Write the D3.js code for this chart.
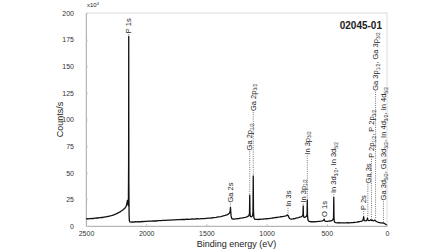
<!DOCTYPE html>
<meta charset="utf-8">
<style>
  body { margin: 0; background: #fff; }
  text { font-family: "Liberation Sans", Arial, sans-serif; fill: #222; }
  .tick text { fill: #333; }
  .lbl { font-size: 7.5px; }
</style>
<body>
<div id="chart"></div>
<script src="https://d3js.org/d3.v7.min.js"></script>
<script>
// binding energy (eV) and counts/s (x10^4)
var energy = [2500,2490,2480,2470,2460,2450,2440,2430,2420,2410,2400,2390,2380,2370,2360,2350,2340,2330,2320,2310,2300,2290,2280,2270,2260,2250,2240,2230,2220,2210,2200,2190,2180,2172,2165,2160,2156,2153,2150,2148,2146,2145,2144,2142,2140,2135,2125,2110,2100,2090,2080,2070,2060,2050,2040,2030,2020,2010,2000,1980,1960,1940,1920,1900,1880,1860,1840,1820,1800,1780,1760,1740,1720,1700,1680,1660,1640,1620,1600,1580,1560,1540,1520,1500,1480,1460,1440,1420,1400,1380,1360,1345,1330,1318,1310,1305,1302,1300,1298,1295,1290,1280,1270,1260,1250,1240,1230,1220,1210,1200,1190,1180,1170,1160,1152,1146,1142,1140,1138,1135,1130,1125,1120,1116,1113,1111,1109,1106,1100,1090,1080,1070,1060,1050,1040,1030,1020,1010,1000,990,980,970,960,950,940,930,920,910,900,890,880,870,860,850,840,832,826,822,818,812,805,795,785,775,765,755,745,735,725,715,708,702,698,696,694,690,684,678,672,668,664,662,660,656,650,640,630,620,610,600,590,580,570,560,550,540,530,525,522,519,514,505,495,485,475,465,455,448,444,442,440,437,432,425,415,400,385,370,355,340,325,310,295,280,265,250,235,220,210,201,197,194,191,187,180,172,166,162,159,155,148,140,134,129,124,118,112,106,100,95,90,84,76,68,60,52,44,36,29,24,18,12,6,2,0];
var counts = [6.4,6.8,6.6,7.0,6.9,7.2,7.0,7.4,7.3,7.6,7.5,7.9,7.8,8.1,8.0,8.4,8.6,8.5,9.0,9.1,9.4,9.8,10.0,10.5,10.9,11.4,11.9,12.5,13.0,13.8,14.5,15.4,16.4,17.5,19.0,21.5,24.0,20.5,23.0,19.0,60,178,40,10,5,3.8,3.6,3.9,3.7,4.0,3.8,4.1,3.9,4.2,4.0,4.3,4.2,4.4,4.3,4.6,4.5,4.8,4.7,5.0,5.0,5.3,5.2,5.5,5.5,5.8,5.7,6.0,5.9,6.2,6.1,6.4,6.3,6.6,6.5,6.8,6.7,7.0,6.9,7.2,7.4,7.5,7.9,8.1,8.5,8.9,9.4,9.9,10.5,11.2,12.0,13.0,14.5,17.5,14,9.5,7.2,6.5,6.4,6.7,6.6,6.9,7.0,7.3,7.4,7.6,7.9,8.1,8.4,8.8,9.3,10.0,12,29,12,9,8.6,8.8,9.2,10.0,13,47,15,8,6.5,6.2,6.3,6.1,6.4,6.3,6.5,6.4,6.7,6.6,6.8,6.9,7.0,7.2,7.3,7.5,7.6,7.8,8.0,8.1,8.4,8.5,8.7,8.9,9.1,9.3,9.6,9.9,10.5,10.0,8.8,7.5,6.8,6.5,6.6,6.8,7.0,7.3,7.6,7.9,8.3,8.6,9.0,9.4,10.5,18.8,10,8.2,8.0,8.4,8.9,9.5,11,24.5,9,5.5,4.5,4.2,4.0,4.1,3.9,4.0,4.1,4.2,4.3,4.4,4.5,4.7,5.0,5.6,6.5,5.2,4.5,4.3,4.4,4.5,4.7,4.9,5.3,6.0,8,27,7,4.0,3.4,3.1,3.0,3.1,2.9,3.0,2.9,3.0,3.1,3.0,3.2,3.3,3.5,3.7,4.0,4.3,4.6,5.2,6.5,8.7,6.2,5.0,4.8,5.0,5.6,7.5,5.8,5.2,5.0,5.4,5.9,5.2,5.6,5.0,4.8,5.2,5.5,4.8,4.4,4.0,3.6,3.3,3.2,3.0,3.0,2.8,3.0,2.6,2.2,1.6,1.2,1.0];

// peak labels: text, energy of label column, peak top, bottom of the label (counts)
var peakNames = ["P 1s","Ga 2s","Ga 2p_1/2","Ga 2p_3/2","In 3s","In 3p_1/2","In 3p_3/2","O 1s","In 3d_3/2, In 3d_5/2","P 2s","Ga 3s","P 2p_1/2, P 2p_3/2","Ga 3p_1/2, Ga 3p_3/2","Ga 3d_5/2, Ga 3d_3/2, In 4d_3/2, In 4d_5/2"];
var peakEnergy = [2145,1300,1140,1111,822,696,662,522,442,194,159,129,95,29];
var peakTop = [178,17.5,29,47,10.2,18.8,24.5,6.5,27,8.7,7.5,6,5.5,3];
var labelBase = [181,22,71,108,18,22,67,8.5,31,15,40,64,127,24];

var xTicks = [2500,2000,1500,1000,500,0];
var yTicks = [0,25,50,75,100,125,150,175,200];

var width = 448, height = 252;
var margin = {top: 13, right: 61, bottom: 26, left: 86};

var svg = d3.select("#chart").append("svg")
    .attr("width", width)
    .attr("height", height);

var x = d3.scaleLinear().domain([2500, 0]).range([margin.left, width - margin.right]);
var y = d3.scaleLinear().domain([0, 200]).range([height - margin.bottom, margin.top]);

// frame
svg.append("rect")
    .attr("x", x(2500)).attr("y", y(200))
    .attr("width", x(0) - x(2500)).attr("height", y(0) - y(200))
    .attr("fill", "none").attr("stroke", "#dcdcdc").attr("stroke-width", 1);

var xAxis = svg.append("g")
    .attr("transform", "translate(0," + y(0) + ")")
    .call(d3.axisBottom(x).tickValues(xTicks).tickFormat(d3.format("d"))
        .tickSizeInner(-2).tickSizeOuter(0).tickPadding(5));
var yAxis = svg.append("g")
    .attr("transform", "translate(" + x(2500) + ",0)")
    .call(d3.axisLeft(y).tickValues(yTicks).tickSizeInner(-2).tickSizeOuter(0).tickPadding(12));
[xAxis, yAxis].forEach(function(a) {
    a.select(".domain").attr("stroke", "#b5b5b5");
    a.selectAll(".tick line").attr("stroke", "#c8c8c8");
    a.selectAll(".tick text").attr("font-size", 7);
});

// spectrum
var pts = energy.map(function(e, i) { return [e, counts[i]]; });
var line = d3.line().x(function(d) { return x(d[0]); }).y(function(d) { return y(d[1]); });
svg.append("path")
    .datum(pts)
    .attr("d", line)
    .attr("fill", "none")
    .attr("stroke", "#111")
    .attr("stroke-width", 1.3)
    .attr("stroke-linejoin", "round");

// peak annotations
peakNames.forEach(function(name, i) {
    var px = x(peakEnergy[i]);
    var yb = y(labelBase[i]);
    var yp = y(peakTop[i]);
    if (yp - yb > 3) {
        svg.append("line")
            .attr("x1", px).attr("x2", px)
            .attr("y1", yb + 1).attr("y2", yp - 1)
            .attr("stroke", "#555").attr("stroke-width", 0.8)
            .attr("stroke-dasharray", "1,1.2");
    }
    var t = svg.append("text")
        .attr("class", "lbl")
        .attr("transform", "translate(" + (px + 2.7) + "," + yb + ") rotate(-90)");
    var parts = name.split(/_(\d\/\d)/);
    parts.forEach(function(p, j) {
        if (j % 2 === 0) {
            t.append("tspan").attr("dy", j ? -1.4 : 0).text(p);
        } else {
            t.append("tspan").attr("font-size", 4.8).attr("dy", 1.4).text(p);
        }
    });
});

// titles
svg.append("text")
    .attr("x", (x(2500) + x(0)) / 2).attr("y", 247)
    .attr("text-anchor", "middle").attr("font-size", 9)
    .text("Binding energy (eV)");
svg.append("text")
    .attr("transform", "translate(63," + (y(100)) + ") rotate(-90)")
    .attr("text-anchor", "middle").attr("font-size", 9)
    .text("Counts/s");
var exp = svg.append("text").attr("x", 87).attr("y", 7).attr("font-size", 6);
exp.append("tspan").text("x10");
exp.append("tspan").attr("font-size", 4).attr("dy", -2).text("4");
svg.append("text")
    .attr("x", 382).attr("y", 29)
    .attr("text-anchor", "end").attr("font-size", 10).attr("font-weight", "bold")
    .text("02045-01");
</script>
</body>
</html>
